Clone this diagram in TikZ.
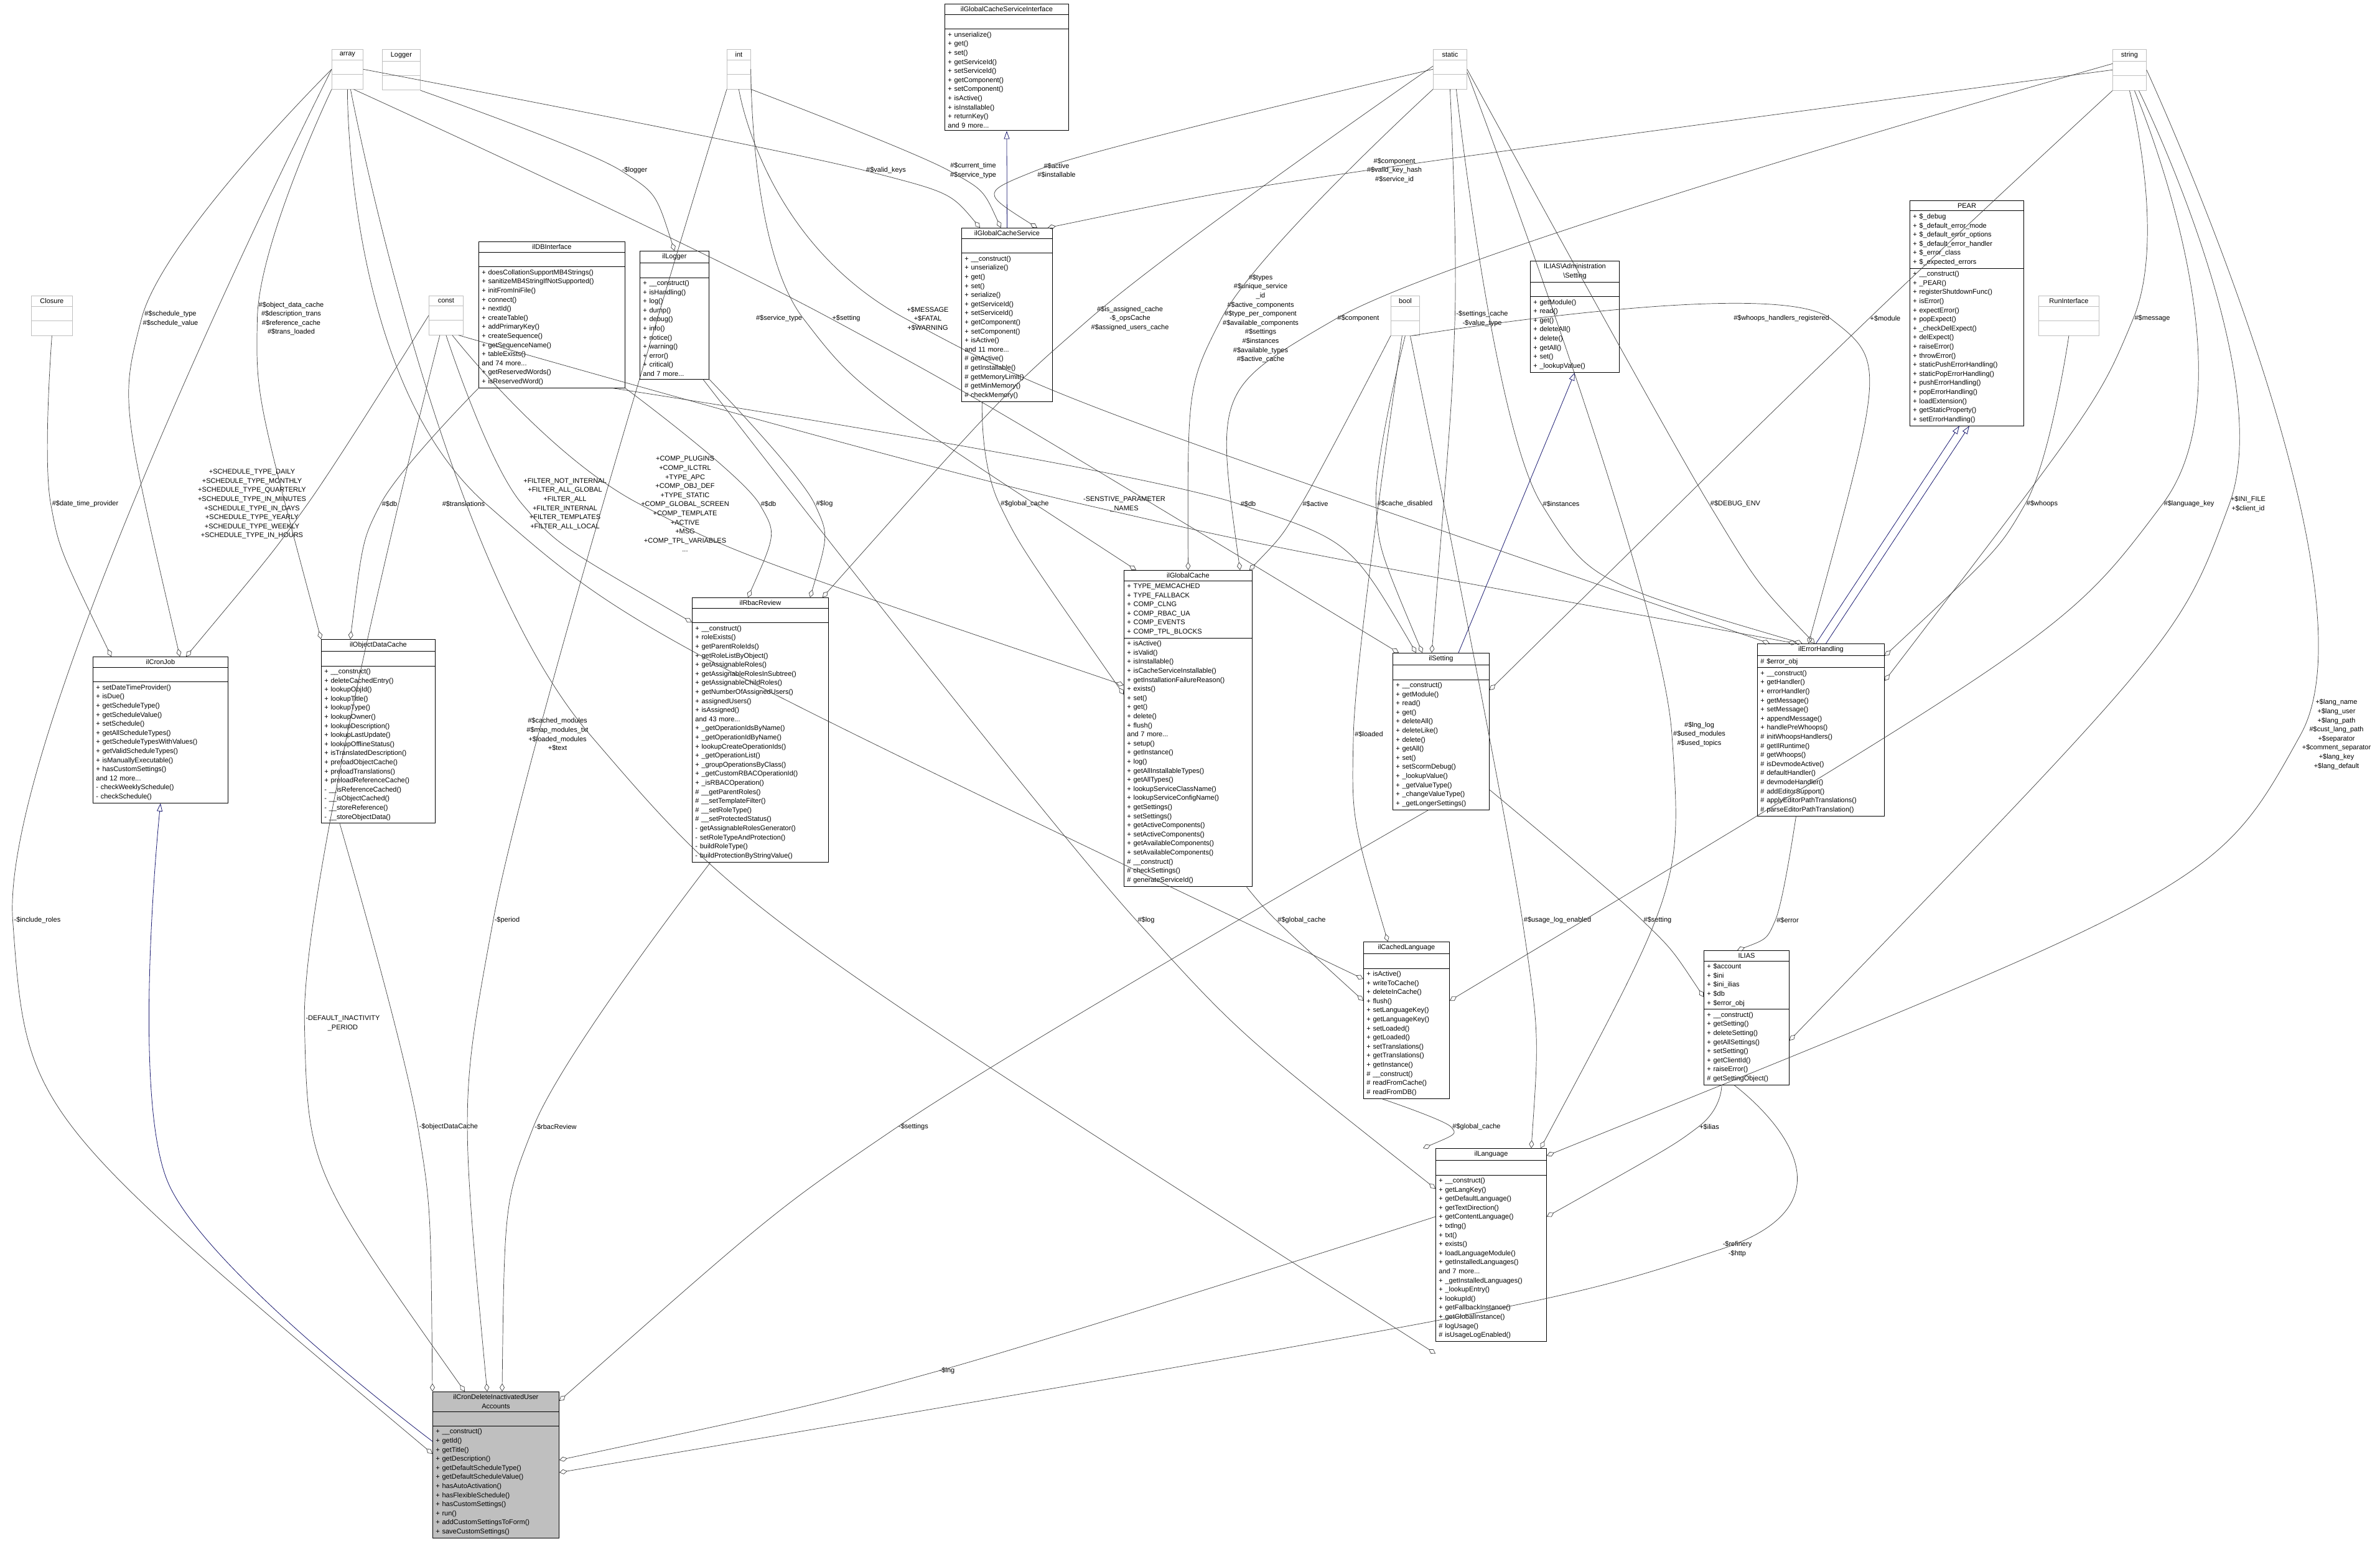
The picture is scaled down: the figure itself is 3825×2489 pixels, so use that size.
\documentclass[tikz,border=0pt]{standalone}
\usepackage{fontspec}
\setmainfont{Liberation Sans}
\usetikzlibrary{shapes.multipart,arrows.meta}

\newcommand{\clsfont}{\fontsize{11}{14.6}\selectfont}
\newcommand{\ctitle}[1]{\makebox[\hsize]{#1}}
\definecolor{edgegray}{HTML}{404040}
\definecolor{inhblue}{HTML}{191970}

\tikzset{
  cls/.style={rectangle split, rectangle split parts=3, draw=black, line width=0.9pt,
    fill=white, text width=#1, align=left, anchor=north west, inner xsep=5pt,
    inner ysep=4pt, font=\clsfont},
  typ/.style={rectangle split, rectangle split parts=3, draw=gray!50, line width=0.8pt,
    fill=white, text width=#1, align=center, anchor=north west, inner xsep=5pt,
    inner ysep=4pt, font=\clsfont},
  lbl/.style={font=\clsfont, align=center, inner sep=2pt},
  agg/.style={draw=edgegray, line width=0.7pt, {Diamond[open,length=13pt,width=8pt]}-},
  inh/.style={draw=inhblue, line width=0.8pt, -{Triangle[open,length=13pt,width=9pt]}},
}

\begin{document}
\begin{tikzpicture}[x=1pt,y=-1pt]
  \useasboundingbox (0,0) rectangle (3825,2489);

  % plain types
  \node[typ=40pt] (tarray) at (533,79) {array\nodepart{two}\strut\nodepart{three}\strut};
  \node[typ=51pt] (tlogger) at (614,79) {Logger\nodepart{two}\strut\nodepart{three}\strut};
  \node[typ=28pt] (tint) at (1168,79) {int\nodepart{two}\strut\nodepart{three}\strut};
  \node[typ=44pt] (tstatic) at (2303,79) {static\nodepart{two}\strut\nodepart{three}\strut};
  \node[typ=44pt] (tstring) at (3395,79) {string\nodepart{two}\strut\nodepart{three}\strut};
  \node[typ=56pt] (tclosure) at (50,475) {Closure\nodepart{two}\strut\nodepart{three}\strut};
  \node[typ=45pt] (tconst) at (689,475) {const\nodepart{two}\strut\nodepart{three}\strut};
  \node[typ=36pt] (tbool) at (2235,475) {bool\nodepart{two}\strut\nodepart{three}\strut};
  \node[typ=87pt] (trun) at (3276,475) {RunInterface\nodepart{two}\strut\nodepart{three}\strut};

  % classes
  \node[cls=189pt] (gcsi) at (1518,6) {\ctitle{ilGlobalCacheServiceInterface}\nodepart{two}\strut
    \nodepart{three}+ unserialize()\\+ get()\\+ set()\\+ getServiceId()\\+ setServiceId()\\
    + getComponent()\\+ setComponent()\\+ isActive()\\+ isInstallable()\\+ returnKey()\\and 9 more...};
  \node[cls=136pt] (gcs) at (1545,366) {\ctitle{ilGlobalCacheService}\nodepart{two}\strut
    \nodepart{three}+ \_\_construct()\\+ unserialize()\\+ get()\\+ set()\\+ serialize()\\
    + getServiceId()\\+ setServiceId()\\+ getComponent()\\+ setComponent()\\+ isActive()\\
    and 11 more...\\\# getActive()\\\# getInstallable()\\\# getMemoryLimit()\\\# getMinMemory()\\
    \# checkMemory()};
  \node[cls=225pt] (dbi) at (769,388) {\ctitle{ilDBInterface}\nodepart{two}\strut
    \nodepart{three}+ doesCollationSupportMB4Strings()\\+ sanitizeMB4StringIfNotSupported()\\
    + initFromIniFile()\\+ connect()\\+ nextId()\\+ createTable()\\+ addPrimaryKey()\\
    + createSequence()\\+ getSequenceName()\\+ tableExists()\\and 74 more...\\
    + getReservedWords()\\+ isReservedWord()};
  \node[cls=101pt] (logr) at (1028,403) {\ctitle{ilLogger}\nodepart{two}\strut
    \nodepart{three}+ \_\_construct()\\+ isHandling()\\+ log()\\+ dump()\\+ debug()\\+ info()\\
    + notice()\\+ warning()\\+ error()\\+ critical()\\and 7 more...};
  \node[cls=133pt] (adms) at (2459,419) {\ctitle{ILIAS\textbackslash Administration}\\\ctitle{\textbackslash Setting}\nodepart{two}\strut
    \nodepart{three}+ getModule()\\+ read()\\+ get()\\+ deleteAll()\\+ delete()\\+ getAll()\\
    + set()\\+ \_lookupValue()};
  \node[cls=173pt] (pear) at (3069,322) {\ctitle{PEAR}\nodepart{two}+ \$\_debug\\
    + \$\_default\_error\_mode\\+ \$\_default\_error\_options\\+ \$\_default\_error\_handler\\
    + \$\_error\_class\\+ \$\_expected\_errors
    \nodepart{three}+ \_\_construct()\\+ \_PEAR()\\+ registerShutdownFunc()\\+ isError()\\
    + expectError()\\+ popExpect()\\+ \_checkDelExpect()\\+ delExpect()\\+ raiseError()\\
    + throwError()\\+ staticPushErrorHandling()\\+ staticPopErrorHandling()\\
    + pushErrorHandling()\\+ popErrorHandling()\\+ loadExtension()\\+ getStaticProperty()\\
    + setErrorHandling()};
  \node[cls=207pt] (cron) at (149,1055) {\ctitle{ilCronJob}\nodepart{two}\strut
    \nodepart{three}+ setDateTimeProvider()\\+ isDue()\\+ getScheduleType()\\
    + getScheduleValue()\\+ setSchedule()\\+ getAllScheduleTypes()\\
    + getScheduleTypesWithValues()\\+ getValidScheduleTypes()\\+ isManuallyExecutable()\\
    + hasCustomSettings()\\and 12 more...\\- checkWeeklySchedule()\\- checkSchedule()};
  \node[cls=173pt] (odc) at (516,1027) {\ctitle{ilObjectDataCache}\nodepart{two}\strut
    \nodepart{three}+ \_\_construct()\\+ deleteCachedEntry()\\+ lookupObjId()\\+ lookupTitle()\\
    + lookupType()\\+ lookupOwner()\\+ lookupDescription()\\+ lookupLastUpdate()\\
    + lookupOfflineStatus()\\+ isTranslatedDescription()\\+ preloadObjectCache()\\
    + preloadTranslations()\\+ preloadReferenceCache()\\- \_\_isReferenceCached()\\
    - \_\_isObjectCached()\\- \_\_storeReference()\\- \_\_storeObjectData()};
  \node[cls=209pt] (rbac) at (1112,960) {\ctitle{ilRbacReview}\nodepart{two}\strut
    \nodepart{three}+ \_\_construct()\\+ roleExists()\\+ getParentRoleIds()\\
    + getRoleListByObject()\\+ getAssignableRoles()\\+ getAssignableRolesInSubtree()\\
    + getAssignableChildRoles()\\+ getNumberOfAssignedUsers()\\+ assignedUsers()\\
    + isAssigned()\\and 43 more...\\+ \_getOperationIdsByName()\\+ \_getOperationIdByName()\\
    + lookupCreateOperationIds()\\+ \_getOperationList()\\+ \_groupOperationsByClass()\\
    + \_getCustomRBACOperationId()\\+ \_isRBACOperation()\\\# \_\_getParentRoles()\\
    \# \_\_setTemplateFilter()\\\# \_\_setRoleType()\\\# \_\_setProtectedStatus()\\
    - getAssignableRolesGenerator()\\- setRoleTypeAndProtection()\\- buildRoleType()\\
    - buildProtectionByStringValue()};
  \node[cls=196pt] (gcache) at (1806,916) {\ctitle{ilGlobalCache}\nodepart{two}+ TYPE\_MEMCACHED\\
    + TYPE\_FALLBACK\\+ COMP\_CLNG\\+ COMP\_RBAC\_UA\\+ COMP\_EVENTS\\+ COMP\_TPL\_BLOCKS
    \nodepart{three}+ isActive()\\+ isValid()\\+ isInstallable()\\+ isCacheServiceInstallable()\\
    + getInstallationFailureReason()\\+ exists()\\+ set()\\+ get()\\+ delete()\\+ flush()\\
    and 7 more...\\+ setup()\\+ getInstance()\\+ log()\\+ getAllInstallableTypes()\\
    + getAllTypes()\\+ lookupServiceClassName()\\+ lookupServiceConfigName()\\
    + getSettings()\\+ setSettings()\\+ getActiveComponents()\\+ setActiveComponents()\\
    + getAvailableComponents()\\+ setAvailableComponents()\\\# \_\_construct()\\
    \# checkSettings()\\\# generateServiceId()};
  \node[cls=145pt] (sett) at (2238,1049) {\ctitle{ilSetting}\nodepart{two}\strut
    \nodepart{three}+ \_\_construct()\\+ getModule()\\+ read()\\+ get()\\+ deleteAll()\\
    + deleteLike()\\+ delete()\\+ getAll()\\+ set()\\+ setScormDebug()\\+ \_lookupValue()\\
    + \_getValueType()\\+ \_changeValueType()\\+ \_getLongerSettings()};
  \node[cls=194pt] (errh) at (2824,1034) {\ctitle{ilErrorHandling}\nodepart{two}\# \$error\_obj
    \nodepart{three}+ \_\_construct()\\+ getHandler()\\+ errorHandler()\\+ getMessage()\\
    + setMessage()\\+ appendMessage()\\+ handlePreWhoops()\\\# initWhoopsHandlers()\\
    \# getIlRuntime()\\\# getWhoops()\\\# isDevmodeActive()\\\# defaultHandler()\\
    \# devmodeHandler()\\\# addEditorSupport()\\\# applyEditorPathTranslations()\\
    \# parseEditorPathTranslation()};
  \node[cls=128pt] (clang) at (2191,1513) {\ctitle{ilCachedLanguage}\nodepart{two}\strut
    \nodepart{three}+ isActive()\\+ writeToCache()\\+ deleteInCache()\\+ flush()\\
    + setLanguageKey()\\+ getLanguageKey()\\+ setLoaded()\\+ getLoaded()\\
    + setTranslations()\\+ getTranslations()\\+ getInstance()\\\# \_\_construct()\\
    \# readFromCache()\\\# readFromDB()};
  \node[cls=127pt] (ilias) at (2738,1527) {\ctitle{ILIAS}\nodepart{two}+ \$account\\+ \$ini\\
    + \$ini\_ilias\\+ \$db\\+ \$error\_obj
    \nodepart{three}+ \_\_construct()\\+ getSetting()\\+ deleteSetting()\\+ getAllSettings()\\
    + setSetting()\\+ getClientId()\\+ raiseError()\\\# getSettingObject()};
  \node[cls=168pt] (lang) at (2307,1845) {\ctitle{ilLanguage}\nodepart{two}\strut
    \nodepart{three}+ \_\_construct()\\+ getLangKey()\\+ getDefaultLanguage()\\
    + getTextDirection()\\+ getContentLanguage()\\+ txtlng()\\+ txt()\\+ exists()\\
    + loadLanguageModule()\\+ getInstalledLanguages()\\and 7 more...\\
    + \_getInstalledLanguages()\\+ \_lookupEntry()\\+ lookupId()\\+ getFallbackInstance()\\
    + getGlobalInstance()\\\# logUsage()\\\# isUsageLogEnabled()};
  \node[cls=193pt, fill=gray!50] (main) at (695,2236) {\ctitle{ilCronDeleteInactivatedUser}\\\ctitle{Accounts}
    \nodepart{two}\strut
    \nodepart{three}+ \_\_construct()\\+ getId()\\+ getTitle()\\+ getDescription()\\
    + getDefaultScheduleType()\\+ getDefaultScheduleValue()\\+ hasAutoActivation()\\
    + hasFlexibleSchedule()\\+ hasCustomSettings()\\+ run()\\+ addCustomSettingsToForm()\\
    + saveCustomSettings()};

  % labels
  \node[lbl] (lLogger) at (1020,274) {-\$logger};
  \node[lbl] (lSched) at (274,512) {\#\$schedule\_type\\\#\$schedule\_value};
  \node[lbl] (lObjCache) at (468,512) {\#\$object\_data\_cache\\\#\$description\_trans\\\#\$reference\_cache\\\#\$trans\_loaded};
  \node[lbl] (lSvcType) at (1252,512) {\#\$service\_type};
  \node[lbl] (lDtp) at (137,810) {\#\$date\_time\_provider};
  \node[lbl] (lSchedConst) at (405,810) {+SCHEDULE\_TYPE\_DAILY\\+SCHEDULE\_TYPE\_MONTHLY\\+SCHEDULE\_TYPE\_QUARTERLY\\+SCHEDULE\_TYPE\_IN\_MINUTES\\+SCHEDULE\_TYPE\_IN\_DAYS\\+SCHEDULE\_TYPE\_YEARLY\\+SCHEDULE\_TYPE\_WEEKLY\\+SCHEDULE\_TYPE\_IN\_HOURS};
  \node[lbl] (lDbOdc) at (626,810) {\#\$db};
  \node[lbl] (lTrans) at (745,810) {\#\$translations};
  \node[lbl] (lFilter) at (908,810) {+FILTER\_NOT\_INTERNAL\\+FILTER\_ALL\_GLOBAL\\+FILTER\_ALL\\+FILTER\_INTERNAL\\+FILTER\_TEMPLATES\\+FILTER\_ALL\_LOCAL};
  \node[lbl] (lComp) at (1101,810) {+COMP\_PLUGINS\\+COMP\_ILCTRL\\+TYPE\_APC\\+COMP\_OBJ\_DEF\\+TYPE\_STATIC\\+COMP\_GLOBAL\_SCREEN\\+COMP\_TEMPLATE\\+ACTIVE\\+MSG\\+COMP\_TPL\_VARIABLES\\...};
  \node[lbl] (lDbRbac) at (1235,810) {\#\$db};
  \node[lbl] (lModules) at (896,1180) {\#\$cached\_modules\\\#\$map\_modules\_txt\\+\$loaded\_modules\\+\$text};
  \node[lbl] (lValidKeys) at (1424,274) {\#\$valid\_keys};
  \node[lbl] (lCurTime) at (1564,274) {\#\$current\_time\\\#\$service\_type};
  \node[lbl] (lActInst) at (1698,274) {\#\$active\\\#\$installable};
  \node[lbl] (lCompKey) at (2241,274) {\#\$component\\\#\$valid\_key\_hash\\\#\$service\_id};
  \node[lbl] (lSetting) at (1360,512) {+\$setting};
  \node[lbl] (lMsg) at (1491,512) {+\$MESSAGE\\+\$FATAL\\+\$WARNING};
  \node[lbl] (lAssigned) at (1816,512) {\#\$is\_assigned\_cache\\-\$\_opsCache\\\#\$assigned\_users\_cache};
  \node[lbl] (lTypes) at (2026,512) {\#\$types\\\#\$unique\_service\\\_id\\\#\$active\_components\\\#\$type\_per\_component\\\#\$available\_components\\\#\$settings\\\#\$instances\\\#\$available\_types\\\#\$active\_cache};
  \node[lbl] (lCompGc) at (2183,512) {\#\$component};
  \node[lbl] (lSetCache) at (2382,512) {-\$settings\_cache\\-\$value\_type};
  \node[lbl] (lLogRbac) at (1325,810) {\#\$log};
  \node[lbl] (lGcGcs) at (1647,810) {\#\$global\_cache};
  \node[lbl] (lSensitive) at (1807,810) {-SENSTIVE\_PARAMETER\\\_NAMES};
  \node[lbl] (lDbSett) at (2006,810) {\#\$db};
  \node[lbl] (lActive) at (2114,810) {\#\$active};
  \node[lbl] (lCacheDis) at (2258,810) {\#\$cache\_disabled};
  \node[lbl] (lInstances) at (2509,810) {\#\$instances};
  \node[lbl] (lLoaded) at (2200,1180) {\#\$loaded};
  \node[lbl] (lWhoopsReg) at (2863,512) {\#\$whoops\_handlers\_registered};
  \node[lbl] (lModule) at (3030,512) {+\$module};
  \node[lbl] (lMessage) at (3459,512) {\#\$message};
  \node[lbl] (lDebugEnv) at (2789,810) {\#\$DEBUG\_ENV};
  \node[lbl] (lWhoops) at (3282,810) {\#\$whoops};
  \node[lbl] (lLangKey) at (3518,810) {\#\$language\_key};
  \node[lbl] (lIniFile) at (3613,810) {+\$INI\_FILE\\+\$client\_id};
  \node[lbl] (lLngLog) at (2731,1180) {\#\$lng\_log\\\#\$used\_modules\\\#\$used\_topics};
  \node[lbl] (lLangName) at (3755,1180) {+\$lang\_name\\+\$lang\_user\\+\$lang\_path\\\#\$cust\_lang\_path\\+\$separator\\+\$comment\_separator\\+\$lang\_key\\+\$lang\_default};
  \node[lbl] (lPeriod) at (815,1479) {-\$period};
  \node[lbl] (lLogLang) at (1842,1479) {\#\$log};
  \node[lbl] (lGcClang) at (2092,1479) {\#\$global\_cache};
  \node[lbl] (lOdcMain) at (721,1811) {-\$objectDataCache};
  \node[lbl] (lRbacMain) at (893,1811) {-\$rbacReview};
  \node[lbl] (lSettMain) at (1468,1811) {-\$settings};
  \node[lbl] (lLng) at (1522,2203) {-\$lng};
  \node[lbl] (lDefault) at (551,1644) {-DEFAULT\_INACTIVITY\\\_PERIOD};
  \node[lbl] (lRoles) at (60,1479) {-\$include\_roles};
  \node[lbl] (lUsageLog) at (2503,1479) {\#\$usage\_log\_enabled};
  \node[lbl] (lSetIlias) at (2664,1479) {\#\$setting};
  \node[lbl] (lError) at (2873,1479) {\#\$error};
  \node[lbl] (lGcLang) at (2373,1811) {\#\$global\_cache};
  \node[lbl] (lIlias) at (2747,1811) {+\$ilias};
  \node[lbl] (lRefinery) at (2792,2007) {-\$refinery\\-\$http};

  \coordinate (cronbend) at (270,1900);

  % inheritance
  \draw[inh] (gcs.north) -- (gcsi.south);
  \draw[inh] ([xshift=-50pt]sett.north east) -- (adms.south);
  \draw[inh] ([xshift=-8pt]errh.north) -- ([xshift=-12pt]pear.south);
  \draw[inh] ([xshift=8pt]errh.north) -- ([xshift=4pt]pear.south);
  \draw[inh] plot[smooth] coordinates {([yshift=-80pt]main.north west) (cronbend) (cron.south)};

  % aggregations
  \draw[agg] plot[smooth] coordinates {(logr.north) (lLogger.west) (tlogger.south east)};
  \draw[agg] plot[smooth] coordinates {([xshift=140pt]cron.north west) (lSched.west) (tarray.west)};
  \draw[agg] plot[smooth] coordinates {(odc.north west) (lObjCache.west) (tarray.south west)};
  \draw[agg] plot[smooth] coordinates {([xshift=20pt]gcache.north west) (lSvcType.east) (tint.east)};
  \draw[agg] plot[smooth] coordinates {([xshift=30pt]cron.north west) (lDtp.west) (tclosure.south)};
  \draw[agg] plot[smooth] coordinates {([xshift=150pt]cron.north west) (lSchedConst.east) (tconst.west)};
  \draw[agg] plot[smooth] coordinates {([xshift=-45pt]odc.north) (lDbOdc.west) (dbi.south west)};
  \draw[agg] plot[smooth] coordinates {([yshift=-60pt]clang.north west) (lTrans.east) (tarray.south)};
  \draw[agg] plot[smooth] coordinates {([yshift=-40pt]rbac.north west) (lFilter.west) (tconst.south)};
  \draw[agg] plot[smooth] coordinates {([yshift=-185pt]gcache.north west) (lComp.west) ([xshift=10pt]tconst.south)};
  \draw[agg] plot[smooth] coordinates {([xshift=-20pt]rbac.north) (lDbRbac.west) (dbi.south east)};
  \draw[agg] plot[smooth] coordinates {([yshift=-330pt]lang.north west) (lModules.east) ([xshift=5pt]tarray.south)};
  \draw[agg] plot[smooth] coordinates {([xshift=30pt]gcs.north west) (lValidKeys.west) (tarray.east)};
  \draw[agg] plot[smooth] coordinates {([xshift=-10pt]gcs.north) (lCurTime.west) (tint.south east)};
  \draw[agg] plot[smooth] coordinates {([xshift=-25pt]gcs.north east) (lActInst.west) (tstatic.west)};
  \draw[agg] plot[smooth] coordinates {([xshift=-8pt]gcs.north east) (lCompKey.west) (tstring.west)};
  \draw[agg] plot[smooth] coordinates {([xshift=10pt]sett.north west) (lSetting.west) ([xshift=10pt]tarray.south)};
  \draw[agg] plot[smooth] coordinates {([xshift=20pt]errh.north west) (lMsg.west) (tint.south)};
  \draw[agg] plot[smooth] coordinates {([xshift=-10pt]rbac.north east) (lAssigned.west) ([yshift=5pt]tstatic.west)};
  \draw[agg] plot[smooth] coordinates {(gcache.north) (lTypes.west) (tstatic.south west)};
  \draw[agg] plot[smooth] coordinates {([xshift=-20pt]gcache.north east) (lCompGc.west) ([yshift=10pt]tstring.west)};
  \draw[agg] plot[smooth] coordinates {([xshift=-15pt]sett.north) (lSetCache.west) (tstatic.south)};
  \draw[agg] plot[smooth] coordinates {([xshift=-30pt]rbac.north east) (lLogRbac.west) (logr.south east)};
  \draw[agg] plot[smooth] coordinates {([yshift=-200pt]gcache.north west) (lGcGcs.west) ([xshift=-40pt]gcs.south)};
  \draw[agg] plot[smooth] coordinates {([xshift=-40pt]errh.north) (lSensitive.west) ([xshift=20pt]tconst.south)};
  \draw[agg] plot[smooth] coordinates {([xshift=-40pt]sett.north) (lDbSett.west) ([xshift=-20pt]dbi.south east)};
  \draw[agg] plot[smooth] coordinates {([xshift=-5pt]gcache.north east) (lActive.west) (tbool.south west)};
  \draw[agg] plot[smooth] coordinates {([xshift=-30pt]sett.north) (lCacheDis.west) (tbool.south)};
  \draw[agg] plot[smooth] coordinates {([xshift=-30pt]errh.north) (lInstances.west) ([xshift=10pt]tstatic.south)};
  \draw[agg] plot[smooth] coordinates {([xshift=-30pt]clang.north) (lLoaded.west) ([xshift=-5pt]tbool.south)};
  \draw[agg] plot[smooth] coordinates {([xshift=-20pt]errh.north) (lWhoopsReg.east) ([xshift=10pt]tbool.south)};
  \draw[agg] plot[smooth] coordinates {([yshift=-60pt]sett.north east) (lModule.west) (tstring.south west)};
  \draw[agg] plot[smooth] coordinates {([yshift=-60pt]errh.north east) (lMessage.west) (tstring.south)};
  \draw[agg] plot[smooth] coordinates {([xshift=-10pt]errh.north) (lDebugEnv.west) (tstatic.east)};
  \draw[agg] plot[smooth] coordinates {([yshift=-20pt]errh.north east) (lWhoops.west) (trun.south)};
  \draw[agg] plot[smooth] coordinates {([yshift=-95pt]clang.north east) (lLangKey.west) ([xshift=8pt]tstring.south)};
  \draw[agg] plot[smooth] coordinates {([yshift=-145pt]ilias.north east) (lIniFile.west) ([xshift=15pt]tstring.south)};
  \draw[agg] plot[smooth] coordinates {([xshift=-10pt]lang.north east) (lLngLog.west) ([yshift=-5pt]tstatic.east)};
  \draw[agg] plot[smooth] coordinates {([yshift=-12pt]lang.north east) (lLangName.west) (tstring.east)};
  \draw[agg] plot[smooth] coordinates {([xshift=-14pt]main.north) (lPeriod.west) (tint.south west)};
  \draw[agg] plot[smooth] coordinates {([yshift=-65pt]lang.north west) (lLogLang.west) ([xshift=-10pt]logr.south east)};
  \draw[agg] plot[smooth] coordinates {([yshift=-95pt]clang.north west) (lGcClang.west) ([xshift=-10pt]gcache.south east)};
  \draw[agg] plot[smooth] coordinates {(main.north west) (lOdcMain.west) ([xshift=30pt]odc.south west)};
  \draw[agg] plot[smooth] coordinates {([xshift=10pt]main.north) (lRbacMain.west) ([xshift=-80pt]rbac.south)};
  \draw[agg] plot[smooth] coordinates {([yshift=-15pt]main.north east) (lSettMain.west) ([xshift=-20pt]sett.south)};
  \draw[agg] plot[smooth] coordinates {([yshift=-110pt]main.north east) (lLng.west) ([yshift=-110pt]lang.north west)};
  \draw[agg] plot[smooth] coordinates {([xshift=-50pt]main.north) (lDefault.west) ([xshift=-10pt]tconst.south)};
  \draw[agg] plot[smooth] coordinates {([yshift=-100pt]main.north west) (lRoles.west) (tarray.west)};
  \draw[agg] plot[smooth] coordinates {([xshift=-25pt]lang.north east) (lUsageLog.west) ([xshift=8pt]tbool.south)};
  \draw[agg] plot[smooth] coordinates {([yshift=-75pt]ilias.north west) (lSetIlias.west) ([yshift=-220pt]sett.north east)};
  \draw[agg] plot[smooth] coordinates {([xshift=-15pt]ilias.north) (lError.west) ([xshift=-40pt]errh.south)};
  \draw[agg] plot[smooth] coordinates {([xshift=-20pt]lang.north west) (lGcLang.west) ([xshift=-40pt]clang.south)};
  \draw[agg] plot[smooth] coordinates {([yshift=-110pt]lang.north east) (lIlias.west) ([xshift=-40pt]ilias.south)};
  \draw[agg] plot[smooth] coordinates {([yshift=-130pt]main.north east) (lRefinery.west) ([xshift=-20pt]ilias.south)};
\end{tikzpicture}
\end{document}
